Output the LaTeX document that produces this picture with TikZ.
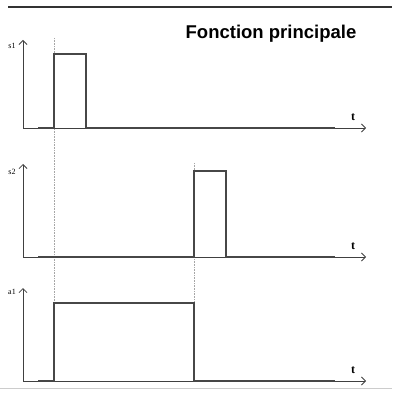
\documentclass[tikz,border=0pt]{standalone}
\usepackage{fontspec}
\setmainfont{Liberation Serif}
\newfontfamily\titlefont{Liberation Sans}
\usetikzlibrary{arrows.meta}
\begin{document}
\begin{tikzpicture}[x=1pt,y=-1pt,
    axis/.style={draw=black!75,line width=0.8pt,-{Straight Barb[length=4pt,width=8pt]}},
    signal/.style={draw=black!72,line width=2.2pt},
    guide/.style={draw=black!35,line width=0.6pt,densely dotted},
    axislabel/.style={font=\fontsize{8}{9}\selectfont,inner sep=0pt},
    tlabel/.style={font=\bfseries\fontsize{12}{13}\selectfont,inner sep=0pt}
]
\useasboundingbox (0,0) rectangle (392,395);
\draw[black!80,line width=2.5pt] (8,7) -- (392,7);
\draw[black!20,line width=1pt] (0,388) -- (392,388);
\node[font=\titlefont\bfseries\fontsize{18.5}{20}\selectfont,inner sep=0pt] (title) at (271,34) {Fonction principale};

% repères verticaux
\draw[guide] (54,38) -- (54,303);
\draw[guide] (194,163) -- (194,303);

% axes
\foreach \name/\base/\top/\ly in {s1/128/40/46, s2/257/164/172, a1/381/288/292} {
  \draw[axis] (23,\base) -- (23,\top);
  \draw[axis] (23,\base) -- (366,\base);
  \node[axislabel] (lab-\name) at (12,\ly) {\name};
  \node[tlabel] (t-\name) at (353,\base-11) {t};
}

% chronogrammes
\draw[signal] (38,128) -- (54,128) -- (54,54) -- (86,54) -- (86,128) -- (335,128);
\draw[signal] (38,257) -- (194,257) -- (194,171) -- (226,171) -- (226,257) -- (335,257);
\draw[signal] (38,381) -- (54,381) -- (54,303) -- (194,303) -- (194,381) -- (335,381);
\end{tikzpicture}
\end{document}
